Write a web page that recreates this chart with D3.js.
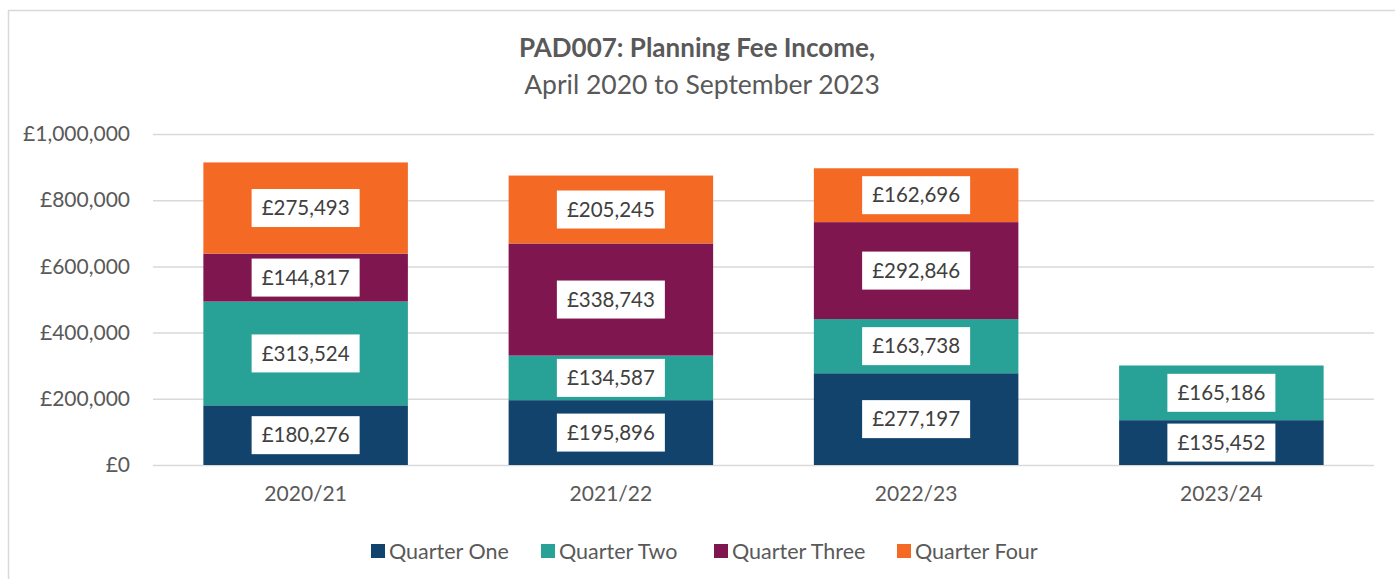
<!DOCTYPE html>
<html>
<head>
<meta charset="utf-8">
<script src="https://cdn.jsdelivr.net/npm/d3@7"></script>
<style>
  body { margin: 0; background: #fff; }
  svg { display: block; font-family: Lato, "Open Sans", sans-serif; }
</style>
</head>
<body>
<div id="chart"></div>
<script>
const years = ["2020/21", "2021/22", "2022/23", "2023/24"];
const quarters = ["Quarter One", "Quarter Two", "Quarter Three", "Quarter Four"];
const quarterOne = [180276, 195896, 277197, 135452];
const quarterTwo = [313524, 134587, 163738, 165186];
const quarterThree = [144817, 338743, 292846, 0];
const quarterFour = [275493, 205245, 162696, 0];
const colours = ["#12436D", "#28A197", "#801650", "#F46A25"];
const yTicks = [0, 200000, 400000, 600000, 800000, 1000000];

const W = 1395, H = 579;
const margin = {top: 134, right: 21, bottom: 114, left: 153};
const width = W - margin.left - margin.right,
	height = H - margin.top - margin.bottom;

const series = [quarterOne, quarterTwo, quarterThree, quarterFour];
const table = years.map((y, i) => {
	const row = {year: y};
	quarters.forEach((q, j) => row[q] = series[j][i]);
	return row;
});
const stacked = d3.stack().keys(quarters)(table);

const svg = d3.select("#chart").append("svg")
	.attr("width", W)
	.attr("height", H);

// chart border
svg.append("rect")
	.attr("x", 8.5).attr("y", 10.5)
	.attr("width", W + 10).attr("height", H + 10)
	.attr("fill", "none")
	.attr("stroke", "#d9d9d9")
	.attr("stroke-width", 1.5);

svg.append("text")
	.attr("x", 697).attr("y", 57)
	.attr("text-anchor", "middle")
	.attr("fill", "#595959")
	.style("font-size", "26px")
	.style("font-weight", "bold")
	.text("PAD007: Planning Fee Income,");

svg.append("text")
	.attr("x", 702).attr("y", 94)
	.attr("text-anchor", "middle")
	.attr("fill", "#595959")
	.style("font-size", "26.5px")
	.text("April 2020 to September 2023");

const g = svg.append("g")
	.attr("transform", "translate(" + margin.left + "," + margin.top + ")");

const x = d3.scaleBand().domain(years).range([0, width]).paddingInner(0.33).paddingOuter(0.165);
const y = d3.scaleLinear().domain([0, 1000000]).range([height, 0]);

const fmt = d3.format(",");

// gridlines
g.append("g")
	.call(d3.axisLeft(y).tickValues(yTicks).tickSize(-width).tickFormat(""))
	.call(s => s.select(".domain").remove())
	.call(s => s.selectAll("line").attr("stroke", "#d9d9d9").attr("stroke-width", 1.5));

// y labels
g.append("g")
	.call(d3.axisLeft(y).tickValues(yTicks).tickSize(0).tickPadding(23).tickFormat(d => "£" + fmt(d)))
	.call(s => s.select(".domain").remove())
	.call(s => s.selectAll("text").attr("fill", "#595959").style("font-size", "21px").style("font-family", "Lato, sans-serif"));

// x labels
g.append("g")
	.attr("transform", "translate(0," + height + ")")
	.call(d3.axisBottom(x).tickSize(0).tickPadding(21))
	.call(s => s.select(".domain").remove())
	.call(s => s.selectAll("text").attr("fill", "#595959").style("font-size", "21px").style("font-family", "Lato, sans-serif"));

const layers = g.selectAll(".layer")
	.data(stacked)
	.enter().append("g")
	.attr("class", "layer")
	.attr("fill", (d, i) => colours[i]);

layers.selectAll("rect")
	.data(d => d.filter(p => p[1] > p[0]))
	.enter().append("rect")
	.attr("x", d => x(d.data.year))
	.attr("y", d => y(d[1]))
	.attr("width", x.bandwidth())
	.attr("height", d => y(d[0]) - y(d[1]));

// data labels
const labels = g.selectAll(".lbl")
	.data(stacked.flatMap(s => s.filter(p => p[1] > p[0]).map(p => ({p: p, v: p[1] - p[0]}))))
	.enter().append("g")
	.attr("class", "lbl")
	.attr("transform", d => "translate(" + (x(d.p.data.year) + x.bandwidth() / 2) + "," + (y((d.p[0] + d.p[1]) / 2)) + ")");

labels.append("rect")
	.attr("x", -54).attr("y", -19)
	.attr("width", 108).attr("height", 38)
	.attr("fill", "#fff");

labels.append("text")
	.attr("text-anchor", "middle")
	.attr("dy", "0.35em")
	.attr("fill", "#404040")
	.style("font-size", "20.5px")
	.text(d => "£" + fmt(d.v));

// legend
const legendX = [371, 541, 714, 897];
const legend = svg.selectAll(".legend")
	.data(quarters)
	.enter().append("g")
	.attr("class", "legend")
	.attr("transform", (d, i) => "translate(" + legendX[i] + ",551)");

legend.append("rect")
	.attr("x", 0).attr("y", -7)
	.attr("width", 14).attr("height", 14)
	.attr("fill", (d, i) => colours[i]);

legend.append("text")
	.attr("x", 18)
	.attr("dy", "0.35em")
	.attr("fill", "#595959")
	.style("font-size", "21.5px")
	.text(d => d);
</script>
</body>
</html>
